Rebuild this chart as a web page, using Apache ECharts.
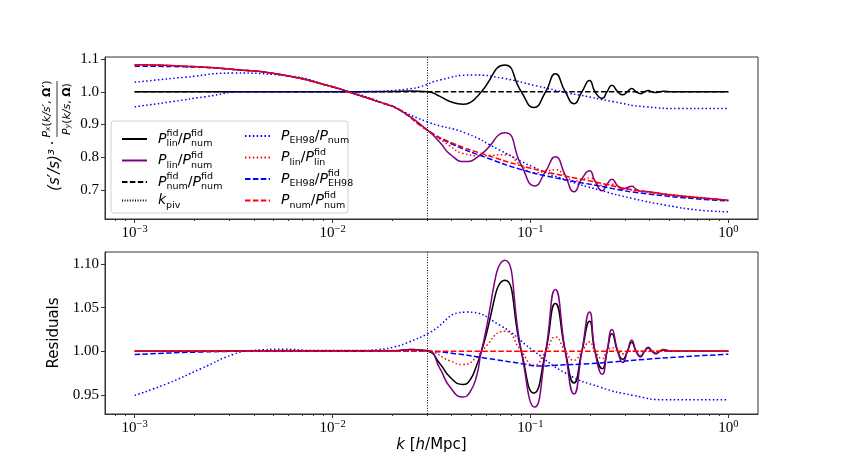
<!DOCTYPE html>
<html><head><meta charset="utf-8">
<script src="https://cdn.jsdelivr.net/npm/echarts@6/dist/echarts.min.js"></script>
<style>html,body{margin:0;padding:0;background:#fff}#c{width:843px;height:474px}</style>
</head><body><div id="c"></div>
<script>
// ---------- data (k in h/Mpc, ratios) ----------
const kPiv = 0.03;
const majorTicks = [0.001, 0.01, 0.1, 1];
const minorTicks = [8e-4, 9e-4, 2e-3, 3e-3, 4e-3, 5e-3, 6e-3, 7e-3, 8e-3, 9e-3,
  0.02, 0.03, 0.04, 0.05, 0.06, 0.07, 0.08, 0.09, 0.2, 0.3, 0.4, 0.5, 0.6, 0.7, 0.8, 0.9];
const topYTicks = [0.7, 0.8, 0.9, 1.0, 1.1];
const botYTicks = [0.95, 1.00, 1.05, 1.10];

// black solid: P_lin^fid / P_num^fid (same in both panels)
const linFidK = [0.001, 0.01, 0.02, 0.025, 0.0303, 0.0349, 0.0392, 0.0456, 0.0494, 0.0535, 0.0565, 0.0743, 0.0899, 0.104, 0.1194, 0.1336, 0.150, 0.166, 0.182, 0.199, 0.212, 0.2307, 0.2438, 0.258, 0.276, 0.293, 0.309, 0.325, 0.342, 0.36, 0.377, 0.394, 0.412, 0.431, 0.45, 0.47, 0.52, 1.0];
const linFidV = [1.0, 1.0, 1.0005, 1.002, 1.0, 0.9858, 0.9705, 0.962, 0.9667, 0.984, 1.0, 1.0816, 1.0, 0.952, 1.0, 1.055, 1.0, 0.9636, 1.0, 1.0345, 1.0, 0.980, 1.0, 1.020, 1.0, 0.9908, 1.0, 1.0103, 1.0, 0.9943, 1.0, 1.0038, 1.0, 0.9977, 1.0, 1.0015, 1.0, 1.0];

// black dashed: P_num^fid / P_num^fid
const numFidK = [0.001, 1.0];
const numFidV = [1.0, 1.0];

// ---- top panel ----
const topNumK = [0.001, 0.00178, 0.00316, 0.00562, 0.01, 0.012, 0.0178, 0.0215, 0.0303, 0.0407, 0.06, 0.0883, 0.13, 0.191, 0.385, 1.0];
const topNumV = [1.082, 1.078, 1.068, 1.051, 1.015, 1.0, 0.966, 0.947, 0.882, 0.8425, 0.807, 0.776, 0.751, 0.7305, 0.695, 0.6695];
const topEhK = [0.001, 0.00178, 0.00316, 0.00562, 0.01, 0.012, 0.0178, 0.0215, 0.0303, 0.0407, 0.06, 0.0883, 0.13, 0.191, 0.385, 1.0];
const topEhV = [1.078, 1.076, 1.068, 1.051, 1.015, 1.0, 0.966, 0.947, 0.882, 0.839, 0.799, 0.764, 0.739, 0.720, 0.689, 0.667];
const topLinK = [0.001, 0.00178, 0.00316, 0.00562, 0.01, 0.012, 0.0178, 0.0215, 0.0303, 0.0349, 0.0392, 0.0465, 0.0565, 0.0743, 0.0899, 0.105, 0.1194, 0.1336, 0.150, 0.166, 0.182, 0.199, 0.212, 0.2307, 0.2438, 0.258, 0.276, 0.293, 0.309, 0.325, 0.342, 0.36, 0.385, 0.5, 1.0];
const topLinV = [1.082, 1.078, 1.068, 1.051, 1.015, 1.0, 0.966, 0.947, 0.882, 0.845, 0.810, 0.787, 0.810, 0.875, 0.776, 0.713, 0.758, 0.802, 0.745, 0.695, 0.735, 0.759, 0.727, 0.698, 0.718, 0.733, 0.713, 0.703, 0.708, 0.712, 0.703, 0.697, 0.696, 0.686, 0.6695];
const topLinLinK = [0.001, 0.00178, 0.00316, 0.00562, 0.01, 0.012, 0.0178, 0.0215, 0.0303, 0.0392, 0.0456, 0.0565, 0.0743, 0.0899, 0.104, 0.1194, 0.1336, 0.150, 0.166, 0.182, 0.199, 0.2307, 0.258, 0.293, 0.385, 1.0];
const topLinLinV = [1.082, 1.078, 1.068, 1.051, 1.015, 1.0, 0.966, 0.947, 0.882, 0.835, 0.812, 0.805, 0.808, 0.775, 0.753, 0.758, 0.762, 0.745, 0.728, 0.732, 0.737, 0.714, 0.718, 0.706, 0.695, 0.6695];
const topEhNumAK = [0.001, 0.00155, 0.00228, 0.00363, 0.01, 0.0165, 0.0205, 0.0245, 0.0277, 0.0349, 0.0513, 0.0728, 0.1072, 0.158, 0.177, 0.2607, 0.3836, 0.563, 1.0];
const topEhNumAV = [0.954, 0.970, 0.985, 1.0, 1.0, 1.001, 1.004, 1.009, 1.015, 1.036, 1.051, 1.041, 1.018, 0.995, 0.990, 0.970, 0.954, 0.949, 0.949];
const topEhNumBK = [0.001, 0.00178, 0.00316, 0.00562, 0.01, 0.0178, 0.0302, 0.0475, 0.07, 0.1028, 0.152, 0.224, 0.328, 0.485, 0.714, 1.0];
const topEhNumBV = [1.029, 1.044, 1.057, 1.050, 1.015, 0.967, 0.908, 0.873, 0.822, 0.771, 0.7305, 0.700, 0.6745, 0.654, 0.639, 0.634];

// ---- residual panel ----
const resLinK = [0.001, 0.02, 0.025, 0.0303, 0.0349, 0.0392, 0.0456, 0.0494, 0.0535, 0.0565, 0.0743, 0.0899, 0.105, 0.1194, 0.1336, 0.150, 0.166, 0.182, 0.199, 0.212, 0.2307, 0.2438, 0.258, 0.276, 0.293, 0.309, 0.325, 0.342, 0.36, 0.377, 0.394, 0.412, 0.431, 0.45, 0.47, 0.52, 1.0];
const resLinV = [1.0, 1.0005, 1.002, 1.001, 0.980, 0.959, 0.9475, 0.953, 0.972, 1.0, 1.1046, 1.0, 0.936, 1.0, 1.071, 1.0, 0.951, 1.0, 1.045, 1.0, 0.9736, 1.0, 1.025, 1.0, 0.987, 1.0, 1.0126, 1.0, 0.9935, 1.0, 1.0046, 1.0, 0.997, 1.0, 1.002, 1.0, 1.0];
const resLinLinK = [0.001, 0.025, 0.0303, 0.0392, 0.0456, 0.0535, 0.0565, 0.0743, 0.0899, 0.104, 0.1194, 0.1336, 0.150, 0.166, 0.182, 0.199, 0.212, 0.2307, 0.2438, 0.258, 0.276, 0.293, 0.32, 1.0];
const resLinLinV = [1.0, 1.001, 1.0, 0.989, 0.9847, 0.993, 1.0, 1.023, 1.0, 0.984, 1.0, 1.0165, 1.0, 0.9897, 1.0, 1.0107, 1.0, 0.9916, 1.0, 1.004, 1.0, 0.997, 1.0, 1.0];
const resNumK = [0.001, 1.0];
const resNumV = [1.0, 1.0];
const resEhK = [0.001, 0.00216, 0.004, 0.03, 0.0415, 0.0614, 0.0907, 0.1085, 0.134, 0.198, 0.2607, 0.3836, 0.563, 1.0];
const resEhV = [0.9962, 0.9992, 1.0, 1.0, 0.9973, 0.9916, 0.9858, 0.9831, 0.9839, 0.9858, 0.9877, 0.9908, 0.9935, 0.9966];
const resEhNumK = [0.001, 0.00146, 0.00216, 0.00317, 0.00398, 0.00562, 0.0082, 0.0135, 0.017, 0.0205, 0.0245, 0.0303, 0.0475, 0.07, 0.103, 0.152, 0.224, 0.33, 0.485, 1.0];
const resEhNumV = [0.9494, 0.9629, 0.980, 0.9966, 1.0011, 1.0023, 1.0008, 1.0008, 1.002, 1.005, 1.011, 1.0203, 1.045, 1.030, 1.001, 0.9744, 0.959, 0.9494, 0.9444, 0.9444];

// ---------- chart ----------
const L = Math.log10;
const pts = (k, v) => k.map((x, i) => [L(x), v[i]]);
const SANS = 'DejaVu Sans', SERIF = 'Liberation Serif';
const N = {
  linFid: 'Plin_fid/Pnum_fid', lin: 'Plin/Pnum_fid', numFid: 'Pnum_fid/Pnum_fid', piv: 'k_piv',
  ehNum: 'PEH98/Pnum', linLin: 'Plin/Plin_fid', eh: 'PEH98/PEH98_fid', num: 'Pnum/Pnum_fid'
};
const LBL = {};
LBL[N.linFid] = '{i|P}{sp|fid}{sb|lin}{n|/}{i|P}{sp|fid}{sb|num}';
LBL[N.lin] = '{i|P}{sb|lin}{n|/}{i|P}{sp|fid}{sb|num}';
LBL[N.numFid] = '{i|P}{sp|fid}{sb|num}{n|/}{i|P}{sp|fid}{sb|num}';
LBL[N.piv] = '{i|k}{sb|piv}';
LBL[N.ehNum] = '{i|P}{sb|EH98}{n|/}{i|P}{sb|num}';
LBL[N.linLin] = '{i|P}{sb|lin}{n|/}{i|P}{sp|fid}{sb|lin}';
LBL[N.eh] = '{i|P}{sb|EH98}{n|/}{i|P}{sp|fid}{sb|EH98}';
LBL[N.num] = '{i|P}{sb|num}{n|/}{i|P}{sp|fid}{sb|num}';
const richLeg = {
  i: {fontFamily: SANS, fontStyle: 'italic', fontSize: 14, lineHeight: 20, color: '#000'},
  n: {fontFamily: SANS, fontSize: 14, lineHeight: 20, color: '#000'},
  sp: {fontFamily: SANS, fontSize: 9.5, lineHeight: 11, verticalAlign: 'top', width: 0.1, align: 'left', color: '#000'},
  sb: {fontFamily: SANS, fontSize: 9.5, lineHeight: 11, verticalAlign: 'bottom', color: '#000'}
};

const BLUE = '#0000ff', RED = '#ff0000', PURPLE = '#800080', BLACK = '#000000';
const DOT = [1.5, 2.4], DASH = [5.5, 2.4];
function ser(name, k, v, color, type, g) {
  return {
    type: 'line', name, data: pts(k, v), xAxisIndex: g * 2, yAxisIndex: g,
    symbol: 'none', smooth: 0.55, silent: true,
    lineStyle: {color, width: 1.5, type}, itemStyle: {color}
  };
}
function piv(g) {
  return {
    type: 'line', name: N.piv, data: [], xAxisIndex: g * 2, yAxisIndex: g, symbol: 'none',
    lineStyle: {color: BLACK, width: 1, type: [1, 1.6]}, itemStyle: {color: BLACK},
    markLine: {silent: true, symbol: 'none', label: {show: false},
      lineStyle: {color: BLACK, width: 1, type: [1, 1.6]},
      data: [{xAxis: L(kPiv)}]}
  };
}
const series = [
  ser(N.linFid, linFidK, linFidV, BLACK, 'solid', 0),
  ser(N.lin, topLinK, topLinV, PURPLE, 'solid', 0),
  ser(N.numFid, numFidK, numFidV, BLACK, DASH, 0),
  piv(0),
  ser(N.ehNum, topEhNumAK, topEhNumAV, BLUE, DOT, 0),
  ser(N.ehNum, topEhNumBK, topEhNumBV, BLUE, DOT, 0),
  ser(N.linLin, topLinLinK, topLinLinV, RED, DOT, 0),
  ser(N.eh, topEhK, topEhV, BLUE, DASH, 0),
  ser(N.num, topNumK, topNumV, RED, DASH, 0),
  ser(N.linFid, linFidK, linFidV, BLACK, 'solid', 1),
  ser(N.lin, resLinK, resLinV, PURPLE, 'solid', 1),
  piv(1),
  ser(N.ehNum, resEhNumK, resEhNumV, BLUE, DOT, 1),
  ser(N.linLin, resLinLinK, resLinLinV, RED, DOT, 1),
  ser(N.eh, resEhK, resEhV, BLUE, DASH, 1),
  ser(N.num, resNumK, resNumV, RED, DASH, 1)
];

const AXC = '#333';
function xMain(g, extra) {
  return Object.assign({
    type: 'value', gridIndex: g, position: 'bottom', min: -3.15, max: 0.15,
    axisLine: {show: true, onZero: false, lineStyle: {color: AXC, width: 1}},
    axisTick: {show: true, length: 4, lineStyle: {color: AXC}, customValues: majorTicks.map(L)},
    axisLabel: {
      show: true, margin: 5, customValues: majorTicks.map(L),
      formatter: v => '{b|10}{e|' + (Math.round(v) < 0 ? '\u2212' + (-Math.round(v)) : '0') + '}',
      rich: {b: {fontFamily: SERIF, fontSize: 15, color: '#000', lineHeight: 18},
             e: {fontFamily: SERIF, fontSize: 10.5, color: '#000', verticalAlign: 'top', lineHeight: 11}}
    },
    splitLine: {show: false}
  }, extra || {});
}
function xMinor(g) {
  return {
    type: 'value', gridIndex: g, position: 'bottom', min: -3.15, max: 0.15,
    axisLine: {show: false}, axisLabel: {show: false}, splitLine: {show: false},
    axisTick: {show: true, length: 2, lineStyle: {color: AXC}, customValues: minorTicks.map(L)}
  };
}
function yAx(g, min, max, ticks, dec, extra) {
  return Object.assign({
    type: 'value', gridIndex: g, min, max,
    axisLine: {show: true, onZero: false, lineStyle: {color: AXC, width: 1}},
    axisTick: {show: true, length: 4, lineStyle: {color: AXC}, customValues: ticks},
    axisLabel: {show: true, margin: 6, customValues: ticks, formatter: v => v.toFixed(dec),
      fontFamily: SERIF, fontSize: 15, color: '#000'},
    splitLine: {show: false}
  }, extra || {});
}

const rt = {
  i: {fontFamily: SANS, fontStyle: 'italic', fontSize: 11, color: '#000'},
  n: {fontFamily: SANS, fontSize: 11, color: '#000'},
  b: {fontFamily: SANS, fontSize: 11, fontWeight: 'bold', color: '#000'},
  s: {fontFamily: SANS, fontStyle: 'italic', fontSize: 7.5, verticalAlign: 'bottom', lineHeight: 8, color: '#000'}
};
const legendCommon = {
  orient: 'vertical', itemWidth: 25, itemHeight: 14, itemGap: 1.5, top: 124,
  formatter: n => LBL[n], selectedMode: false,
  itemStyle: {opacity: 0, borderWidth: 0},
  textStyle: {rich: richLeg, padding: [0, 0, 0, 6]}
};
const option = {
  animation: false,
  backgroundColor: '#fff',
  grid: [
    {left: 105, top: 57, width: 653, height: 162, show: true, borderColor: AXC, borderWidth: 1, backgroundColor: 'transparent'},
    {left: 105, top: 252, width: 653, height: 162, show: true, borderColor: AXC, borderWidth: 1, backgroundColor: 'transparent'}
  ],
  xAxis: [
    xMain(0), xMinor(0),
    xMain(1, {name: '{i|k}{n| [}{i|h}{n|/Mpc]}', nameLocation: 'middle', nameGap: 24,
      nameTextStyle: {rich: {
        i: {fontFamily: SANS, fontStyle: 'italic', fontSize: 15, color: '#000'},
        n: {fontFamily: SANS, fontSize: 15, color: '#000'}}}}),
    xMinor(1)
  ],
  yAxis: [
    yAx(0, 0.612, 1.106, topYTicks, 1),
    yAx(1, 0.928, 1.114, botYTicks, 2, {name: 'Residuals', nameLocation: 'middle', nameRotate: 90, nameGap: 36,
      nameTextStyle: {fontFamily: SANS, fontSize: 15, color: '#000'}})
  ],
  legend: [
    Object.assign({left: 116, data: [N.linFid, N.lin, N.numFid, N.piv]}, legendCommon),
    Object.assign({left: 239, data: [N.ehNum, N.linLin, N.eh, N.num]}, legendCommon)
  ],
  graphic: [
    {type: 'rect', z: 1, shape: {x: 111, y: 121, width: 237, height: 92, r: 3},
     style: {fill: 'rgba(255,255,255,0.8)', stroke: '#d0d0d0', lineWidth: 1}},
    {type: 'text', x: 55, y: 170, rotation: Math.PI / 2,
     style: {text: '(s\u2032/s)\u00b3', font: 'italic 15px "DejaVu Sans"', fill: '#000', align: 'center', verticalAlign: 'middle'}},
    {type: 'text', x: 54, y: 143, rotation: Math.PI / 2,
     style: {text: '\u00b7', font: '16px "DejaVu Sans"', fill: '#000', align: 'center', verticalAlign: 'middle'}},
    {type: 'text', x: 47, y: 109, rotation: Math.PI / 2,
     style: {text: '{i|P}{s|x}{n|(}{i|k/s\u2032}{n|, }{b|\u03a9\u2032}{n|)}', rich: rt, align: 'center', verticalAlign: 'middle'}},
    {type: 'line', shape: {x1: 57, y1: 81, x2: 57, y2: 137}, style: {stroke: '#000', lineWidth: 0.8}},
    {type: 'text', x: 67, y: 109, rotation: Math.PI / 2,
     style: {text: '{i|P}{s|y}{n|(}{i|k/s}{n|, }{b|\u03a9}{n|)}', rich: rt, align: 'center', verticalAlign: 'middle'}}
  ],
  series
};
const chart = echarts.init(document.getElementById('c'), null, {renderer: 'canvas'});
chart.setOption(option);
</script></body></html>
